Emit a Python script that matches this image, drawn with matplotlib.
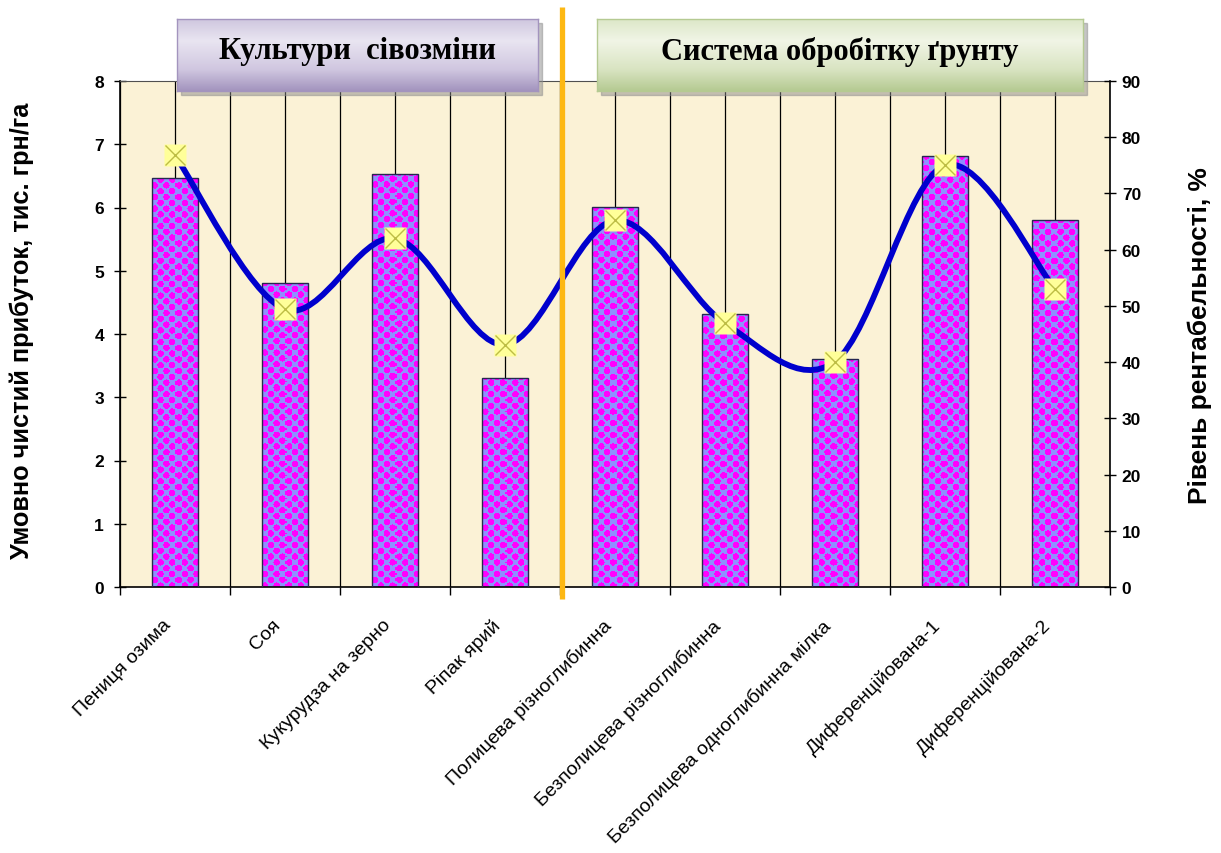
import numpy as np
import matplotlib.pyplot as plt
from matplotlib.path import Path
from matplotlib.patches import PathPatch, Rectangle
from matplotlib.colors import LinearSegmentedColormap, to_rgb
from matplotlib.transforms import ScaledTranslation

plt.rcParams['font.family'] = ['Liberation Sans', 'DejaVu Sans']

# --- data ---
categories = ["Пениця озима", "Соя", "Кукурудза на зерно", "Ріпак ярий",
              "Полицева різноглибинна", "Безполицева різноглибинна",
              "Безполицева одноглибинна мілка", "Диференційована-1",
              "Диференційована-2"]
profit = [6.46, 4.81, 6.53, 3.30, 6.01, 4.31, 3.61, 6.81, 5.80]   # тис. грн/га
rentab = [76.8, 49.4, 62.0, 43.1, 65.2, 46.9, 40.1, 75.0, 53.0]   # %
group_titles = ["Культури  сівозміни", "Система обробітку ґрунту"]
left_title = "Умовно чистий прибуток, тис. грн/га"
right_title = "Рівень рентабельності, %"

W, H = 1221, 854
AX_W, AX_H = 990, 506   # plot area in pixels


def smooth_path(xs, ys):
    # Excel style smoothed line: cubic Bezier through every point
    pts = np.column_stack([xs, ys]).astype(float)
    n = len(pts)
    verts = [pts[0]]
    codes = [Path.MOVETO]
    for i in range(n - 1):
        p_prev = pts[max(i - 1, 0)]
        p_next = pts[min(i + 2, n - 1)]
        c1 = pts[i] + (pts[i + 1] - p_prev) / 6
        c2 = pts[i + 1] - (p_next - pts[i]) / 6
        verts += [c1, c2, pts[i + 1]]
        codes += [Path.CURVE4] * 3
    return Path(verts, codes)


def dot_texture(h, w, period=11.6, radius=3.2):
    # magenta dots on periwinkle, diamond lattice (Excel pattern fill look)
    yy, xx = np.mgrid[0:h, 0:w] + 0.5
    u = np.mod(xx, period)
    v = np.mod(yy, period)
    d1 = np.hypot(np.minimum(u, period - u), np.minimum(v, period - v))
    d2 = np.hypot(u - period / 2, v - period / 2)
    img = np.empty((h, w, 3))
    img[:] = to_rgb('#8F8FFF')
    img[np.minimum(d1, d2) < radius] = to_rgb('#FF00FF')
    return img


fig = plt.figure(figsize=(W / 100, H / 100), dpi=100)
ax = fig.add_axes([120 / W, (H - 588) / H, AX_W / W, AX_H / H])
ax.set_facecolor('#FBF2D6')

x = np.arange(len(categories))
xlim = (-0.5, len(categories) - 0.5)
ylim = (0, 8)

bars = ax.bar(x, profit, width=0.42, color='#8F8FFF', linewidth=0, zorder=2)
tex = dot_texture(AX_H, AX_W)
for b in bars:
    im = ax.imshow(tex, extent=(*xlim, *ylim), aspect='auto',
                   interpolation='nearest', zorder=2.5)
    im.set_clip_path(b)
ax.bar(x, profit, width=0.42, facecolor='none', edgecolor='#262650',
       linewidth=1.0, zorder=3)

ax.set_xlim(*xlim)
ax.set_ylim(*ylim)
ax.set_yticks(range(0, 9), [str(v) for v in range(0, 9)], fontweight='bold',
              fontsize=12.5)
ax.tick_params(axis='y', direction='inout', length=9, width=1, pad=7)

ax.set_xticks(x, categories, rotation=45, ha='right', rotation_mode='anchor',
              fontsize=14)
ax.set_xticks(np.arange(-0.5, len(categories), 1.0), minor=True)
ax.tick_params(axis='x', which='major', length=0, pad=21)
ax.tick_params(axis='x', which='minor', direction='out', length=6, width=1)
shift = ScaledTranslation(-0.13, 0, fig.dpi_scale_trans)
for lbl in ax.get_xticklabels():
    lbl.set_transform(lbl.get_transform() + shift)

ax.grid(axis='x', which='both', color='black', linewidth=0.9, zorder=1)
ax.set_axisbelow(True)

for side in ['left', 'bottom']:
    ax.spines[side].set_color('black')
    ax.spines[side].set_linewidth(1.2)
ax.spines['top'].set_color('#505050')
ax.spines['right'].set_visible(False)

# profitability on the right axis
ax2 = ax.twinx()
ax2.set_ylim(0, 90)
ax2.set_yticks(range(0, 91, 10), [str(v) for v in range(0, 91, 10)],
               fontweight='bold', fontsize=12.5)
ax2.tick_params(axis='y', direction='inout', length=9, width=1, pad=4)
for side in ['left', 'top', 'bottom']:
    ax2.spines[side].set_visible(False)
ax2.spines['right'].set_linewidth(1.2)

ax2.add_patch(PathPatch(smooth_path(x, rentab), facecolor='none',
                        edgecolor='#0000CD', linewidth=4.2,
                        capstyle='round', joinstyle='round', zorder=3))
ax2.plot(x, rentab, 's', ms=16.5, mfc='#FFFF99', mec='none', zorder=4)
ax2.plot(x, rentab, 'x', ms=15, color='#BDBD45', mew=1.0, zorder=5)

# orange divider between the two groups
ax2.plot([3.52, 3.52], [-0.024, 1.146], color='#FDB813', linewidth=3.8,
         transform=ax2.get_xaxis_transform(), clip_on=False, zorder=6,
         solid_capstyle='butt')

# axis titles
fig.text(0.018, 0.613, left_title, rotation=90, ha='center', va='center',
         fontsize=18.3, fontweight='bold')
fig.text(0.983, 0.607, right_title, rotation=90, ha='center', va='center',
         fontsize=18.9, fontweight='bold')


# header boxes
def header(x0, x1, title, stops):
    left, width = x0 / W, (x1 - x0) / W
    bottom, height = (H - 92) / H, 72 / H
    fig.add_artist(Rectangle((left + 4 / W, bottom - 4 / H), width, height,
                             transform=fig.transFigure, color='#8c8c8c',
                             alpha=0.5, zorder=5))
    bax = fig.add_axes([left, bottom, width, height], zorder=6)
    cmap = LinearSegmentedColormap.from_list('hdr', stops)
    bax.imshow(np.linspace(0, 1, 200).reshape(-1, 1), cmap=cmap,
               aspect='auto', extent=[0, 1, 0, 1])
    bax.set_xticks([])
    bax.set_yticks([])
    for sp in bax.spines.values():
        sp.set_color(stops[-1][1])
        sp.set_linewidth(1)
    bax.text(0.5, 0.56, title, ha='center', va='center', fontsize=22,
             fontweight='bold', family=['Liberation Serif', 'DejaVu Serif'])


header(177, 538, group_titles[0],
       [(0, '#CFC7DF'), (0.3, '#E9E5F1'), (0.7, '#D0C7E0'), (1, '#A394BE')])
header(597, 1083, group_titles[1],
       [(0, '#DCE7C8'), (0.3, '#F1F5E6'), (0.7, '#D9E4C2'), (1, '#B5CA92')])

fig.savefig('out.png', dpi=100)
